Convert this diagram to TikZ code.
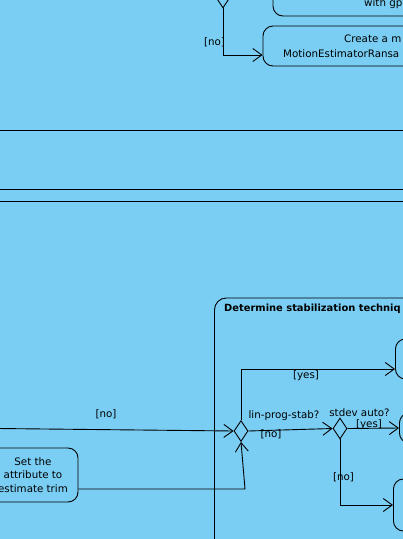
\documentclass[tikz,border=0pt]{standalone}
\usepackage{fontspec}
\setmainfont{DejaVu Sans}
\usetikzlibrary{arrows.meta,shapes.geometric}
\definecolor{bg}{RGB}{122,206,244}
\begin{document}
\begin{tikzpicture}[x=1pt,y=-1pt,
  every node/.style={font=\fontsize{10.3}{13.5}\selectfont},
  act/.style={draw, rounded corners=10pt, fill=bg, line width=0.9pt, inner sep=0pt},
  dec/.style={draw, diamond, fill=bg, minimum width=14pt, minimum height=21pt, inner sep=0pt, line width=0.9pt},
  flow/.style={draw, line width=0.9pt, -{Straight Barb[length=9pt,width=13pt]}},
  plain/.style={draw, line width=0.9pt},
  lbl/.style={inner sep=0pt},
  ]
\fill[bg] (0,0) rectangle (403,539);
\useasboundingbox (0,0) rectangle (403,539);
\clip (0,0) rectangle (403,539);

% top part
\node[act, minimum width=200pt, minimum height=60pt] (top1) at (373,-14) {};
\node[lbl, anchor=west] (top1t) at (364,4) {with gp};
\node[act, minimum width=200pt, minimum height=40pt] (top2) at (363,46) {};
\node[lbl, anchor=west] (top2a) at (344,39) {Create a m};
\node[lbl, anchor=west] (top2b) at (283,54) {MotionEstimatorRansa};
\node[dec] (tdec) at (223,-2.5) {};
\coordinate (tc) at (223,55);
\draw[flow] (tdec.south) -- (tc) -- (top2.west |- tc);
\node[lbl] (tno) at (214.5,42) {[no]};

% separator lines
\coordinate (h1a) at (0,130); \coordinate (h1b) at (403,130);
\coordinate (h2a) at (0,189); \coordinate (h2b) at (403,189);
\coordinate (h3a) at (0,201); \coordinate (h3b) at (403,201);
\draw[plain] (h1a) -- (h1b);
\draw[plain] (h2a) -- (h2b);
\draw[plain] (h3a) -- (h3b);

% container
\node[act, rounded corners=12pt, minimum width=300pt, minimum height=300pt, anchor=north west] (cont) at (214,297.5) {};
\node[lbl, anchor=west, font=\fontsize{9.9}{12}\selectfont\bfseries] (title) at (224,309) {Determine stabilization techniq};

% right-hand actions
\node[act, anchor=west, minimum width=80pt, minimum height=40pt] (na) at (395,359) {};
\node[act, anchor=west, minimum width=80pt, minimum height=30pt] (nb) at (399,428) {};
\node[act, anchor=west, minimum width=80pt, minimum height=52pt] (nc) at (393,505) {};

% decisions
\node[dec] (lps) at (241,431) {};
\node[dec] (sdv) at (340,428.5) {};

% trim action
\node[act, minimum width=90pt, minimum height=54pt, align=center] (trim) at (33,475) {Set the\\attribute to\\estimate trim};

% flows
\coordinate (inL) at (-2,428.5);
\draw[flow] (inL) -- (lps.west);
\node[lbl] (lno) at (106,414) {[no]};

\coordinate (ya) at (241,369);
\draw[flow] (lps.north) -- (ya) -- (na.west |- ya);
\node[lbl] (lyes) at (306,376) {[yes]};

\draw[flow] (lps.east) -- (sdv.west);
\node[lbl] (lpsq) at (284,416) {lin-prog-stab?};
\node[lbl] (mno) at (271,434) {[no]};

\draw[flow] (sdv.east) -- (nb.west);
\node[lbl] (sdq) at (359.5,413) {stdev auto?};
\node[lbl] (ryes) at (369,425) {[yes]};

\coordinate (nc0) at (340,505);
\draw[flow] (sdv.south) -- (nc0) -- (nc.west);
\node[lbl] (bno) at (343.5,477) {[no]};

\coordinate (tb) at (245,489);
\draw[flow] (trim.east |- tb) -- (tb) -- (lps.south);
\end{tikzpicture}
\end{document}
